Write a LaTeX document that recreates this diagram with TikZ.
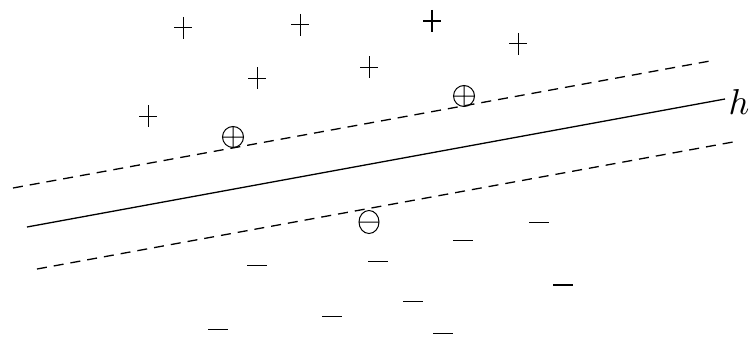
\documentclass[tikz,border=0pt]{standalone}
\usetikzlibrary{calc}
\begin{document}
\begin{tikzpicture}[x=1pt,y=-1pt,
  sep/.style={line width=1.3pt, dash pattern=on 10pt off 7pt},
  hyp/.style={line width=1.3pt},
  ptmark/.style={line width=1pt},
  boldptmark/.style={line width=1.9pt},
  plussign/.pic={\draw[pic actions] (-9,0) -- (9,0) (0,-11) -- (0,11);},
  minussign/.pic={\draw[pic actions] (-10,0) -- (10,0);},
  cplus/.pic={\draw[pic actions] (0,0) circle (10.5) (-10.5,0) -- (10.5,0) (0,-10.5) -- (0,10.5);},
  cminus/.pic={\draw[pic actions] (0,0) ellipse (10 and 11.5) (-10,0) -- (10,0);}
]
\useasboundingbox (0,0) rectangle (751,337);
% lines
\coordinate (hs) at (27,227);
\coordinate (he) at (725,99);
\coordinate (us) at (13,188);
\coordinate (ue) at (710,61);
\coordinate (ls) at (37,269);
\coordinate (le) at (733,142);
\draw[hyp] (hs) -- (he);
\draw[sep] (us) -- (ue);
\draw[sep] (ls) -- (le);
\node[anchor=west, inner sep=0pt, scale=3.6] (hlab) at (728,102) {$h$};
% positive points
\pic[ptmark] at (183,28) {plussign};
\pic[ptmark] at (300,25) {plussign};
\pic[boldptmark] at (432,21) {plussign};
\pic[ptmark] at (518,44) {plussign};
\pic[ptmark] at (257,78) {plussign};
\pic[ptmark] at (369,67) {plussign};
\pic[ptmark] at (148,116) {plussign};
\pic[ptmark] at (233,137) {cplus};
\pic[ptmark] at (464,96) {cplus};
% negative points
\pic[ptmark] at (369,222) {cminus};
\pic[ptmark] at (539,222) {minussign};
\pic[ptmark] at (463,240) {minussign};
\pic[ptmark] at (257,265) {minussign};
\pic[ptmark] at (378,261) {minussign};
\pic[boldptmark] at (563,285) {minussign};
\pic[ptmark] at (413,301) {minussign};
\pic[ptmark] at (332,316) {minussign};
\pic[ptmark] at (218,329) {minussign};
\pic[ptmark] at (443,333) {minussign};
\end{tikzpicture}
\end{document}
